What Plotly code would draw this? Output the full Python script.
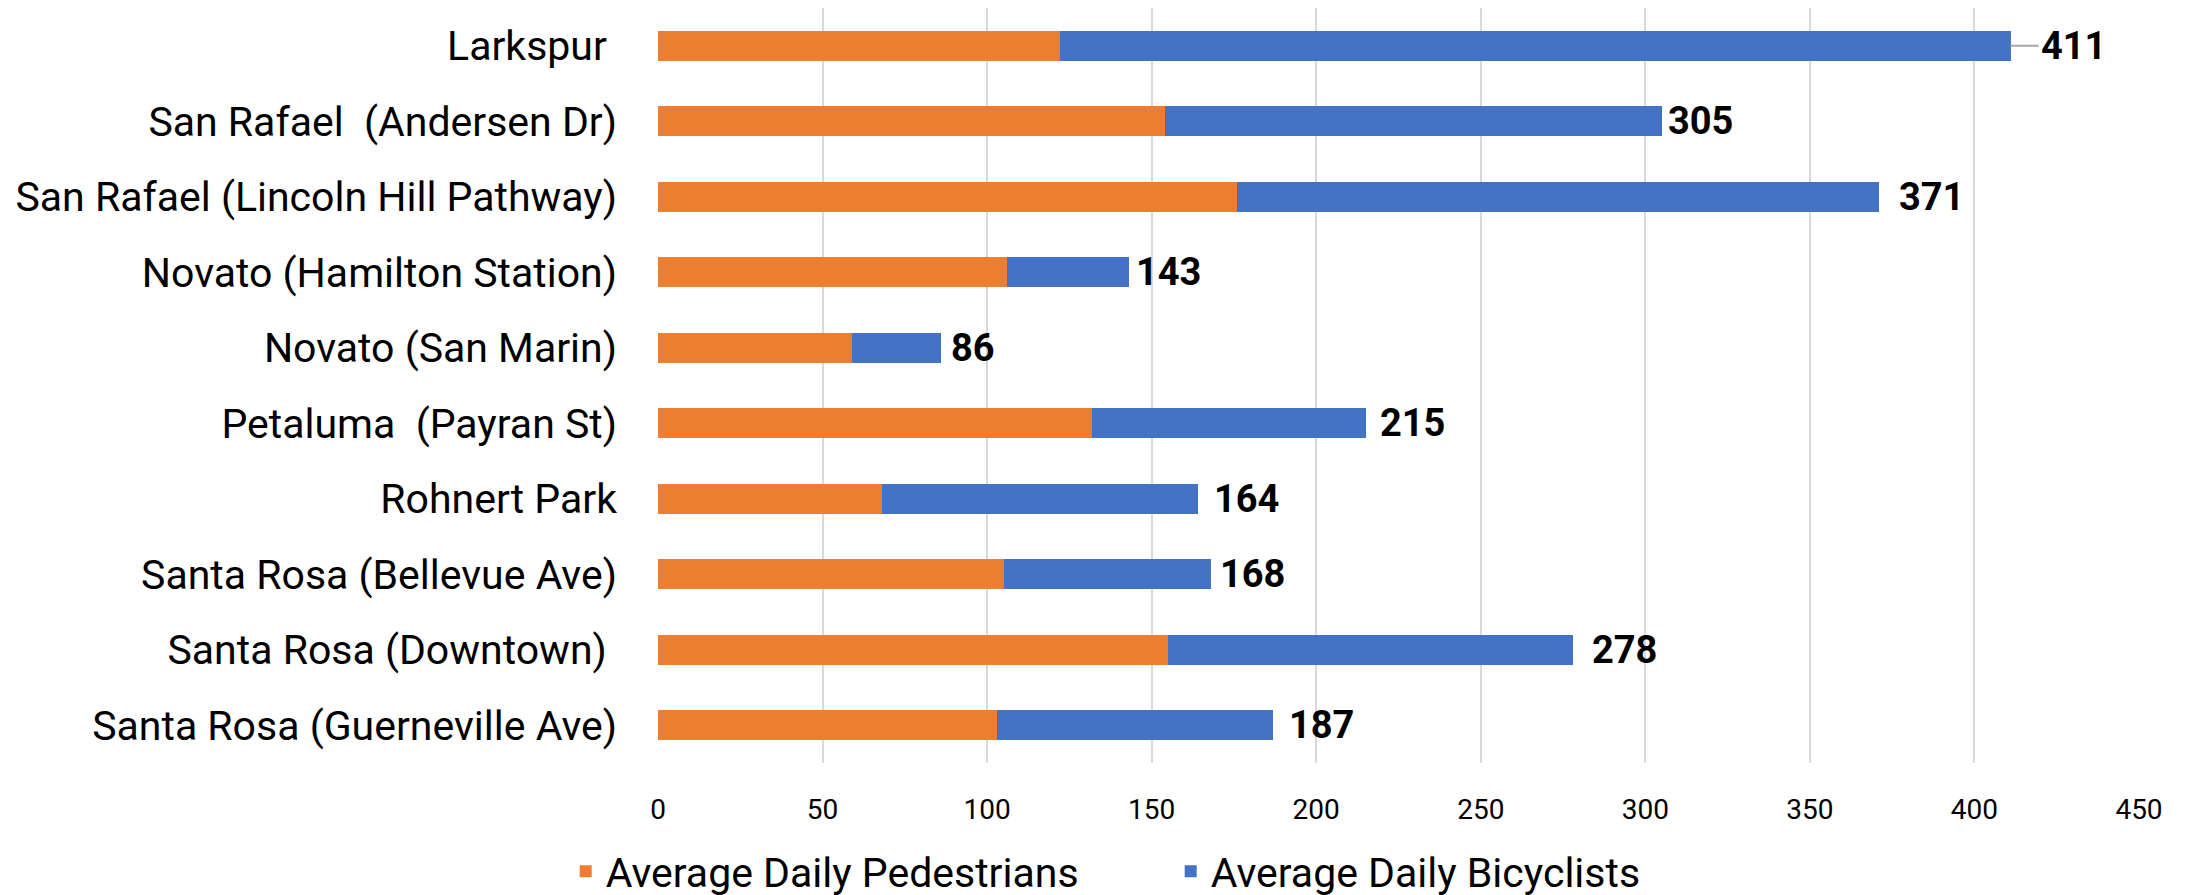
import plotly.graph_objects as go

categories = [
    "Larkspur\u00a0",
    "San Rafael\u00a0 (Andersen Dr)",
    "San Rafael (Lincoln Hill Pathway)",
    "Novato (Hamilton Station)",
    "Novato (San Marin)",
    "Petaluma\u00a0 (Payran St)",
    "Rohnert Park",
    "Santa Rosa (Bellevue Ave)",
    "Santa Rosa (Downtown)\u00a0",
    "Santa Rosa (Guerneville Ave)",
]
pedestrians = [122, 154, 176, 106, 59, 132, 68, 105, 155, 103]
bicyclists = [289, 151, 195, 37, 27, 83, 96, 63, 123, 84]
totals = [p + b for p, b in zip(pedestrians, bicyclists)]

# label pixel offsets (style only)
label_shift = [28, 4, 18, 5, 8, 12, 14, 7, 17, 14]

ORANGE = "#ED7D31"
BLUE = "#4472C4"
FONT = "Roboto"

fig = go.Figure()
fig.add_trace(go.Bar(y=categories, x=pedestrians, orientation="h",
                     name="Average Daily Pedestrians", marker=dict(color=ORANGE, line=dict(width=0))))
fig.add_trace(go.Bar(y=categories, x=bicyclists, orientation="h",
                     name="Average Daily Bicyclists", marker=dict(color=BLUE, line=dict(width=0))))

for i, (c, t) in enumerate(zip(categories, totals)):
    if i == 0:
        fig.add_annotation(x=t, y=c, text=str(t), showarrow=True, arrowhead=0,
                           arrowcolor="#A6A6A6", arrowwidth=2, ax=label_shift[i], ay=0,
                           xanchor="left", yanchor="middle", standoff=0,
                           font=dict(family=FONT, size=38, color="black", weight="bold"))
    else:
        fig.add_annotation(x=t, y=c, text=str(t), showarrow=False,
                           xanchor="left", yanchor="middle", xshift=label_shift[i],
                           font=dict(family=FONT, size=38, color="black", weight="bold"))

fig.update_layout(
    barmode="stack",
    bargap=0.6,
    width=2195, height=895,
    margin=dict(l=650, r=64, t=0, b=140, autoexpand=False),
    plot_bgcolor="white", paper_bgcolor="white",
    font=dict(family=FONT, color="black"),
    showlegend=True,
    legend=dict(orientation="h", xref="container", yref="container",
                x=0.5297, xanchor="center", y=0.035, yanchor="middle",
                font=dict(family=FONT, size=41, color="black"),
                traceorder="normal", entrywidth=560),
)
fig.update_xaxes(range=[0, 450], dtick=50, showgrid=True, gridcolor="#D9D9D9", gridwidth=1.5,
                 zeroline=False, showline=False, automargin=False,
                 tickfont=dict(family=FONT, size=28, color="black"),
                 ticklabelstandoff=27)
fig.update_yaxes(autorange="reversed", showgrid=False, showline=False, zeroline=False,
                 automargin=False,
                 tickfont=dict(family=FONT, size=41, color="black"), ticklabelstandoff=40)

fig.write_html("out.html")
